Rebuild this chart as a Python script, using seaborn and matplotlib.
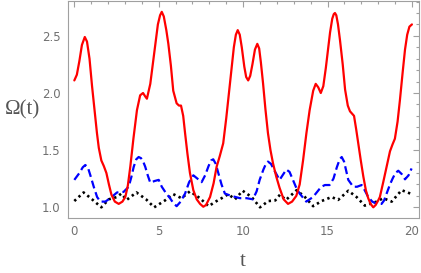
import matplotlib
matplotlib.use("Agg")
import matplotlib.pyplot as plt
from matplotlib.ticker import MultipleLocator
import seaborn as sns
import pandas as pd

# values
t_red = [0.0, 0.15, 0.3, 0.45, 0.62, 0.75, 0.9, 1.05, 1.2, 1.34, 1.45, 1.6, 1.75, 1.9, 2.05,
         2.2, 2.4, 2.63, 2.85, 3.02, 3.17, 3.32, 3.5, 3.71, 3.9, 4.07, 4.2, 4.3, 4.5, 4.74,
         4.95, 5.08, 5.18, 5.3, 5.45, 5.57, 5.72, 5.86, 6.06, 6.2, 6.32, 6.45, 6.56, 6.7,
         6.85, 7.05, 7.25, 7.45, 7.64, 7.8, 8.04, 8.25, 8.43, 8.62, 8.82, 9.0, 9.22, 9.45,
         9.57, 9.68, 9.8, 9.92, 10.07, 10.18, 10.3, 10.42, 10.55, 10.7, 10.84, 10.95, 11.05,
         11.18, 11.32, 11.47, 11.62, 11.77, 11.96, 12.16, 12.4, 12.66, 12.9, 13.15, 13.35,
         13.55, 13.75, 13.94, 14.15, 14.3, 14.45, 14.6, 14.75, 14.9, 15.03, 15.15, 15.28,
         15.37, 15.44, 15.52, 15.62, 15.74, 15.9, 16.04, 16.2, 16.33, 16.45, 16.57, 16.7,
         16.82, 16.97, 17.12, 17.27, 17.41, 17.55, 17.71, 17.85, 18.0, 18.1, 18.3, 18.5,
         18.7, 18.85, 18.99, 19.15, 19.29, 19.45, 19.59, 19.72, 19.85, 20.0]
omega_red = [2.11, 2.16, 2.28, 2.42, 2.49, 2.45, 2.30, 2.06, 1.85, 1.65, 1.52, 1.41, 1.36, 1.30, 1.20,
             1.11, 1.05, 1.03, 1.05, 1.09, 1.19, 1.36, 1.6, 1.85, 1.98, 2.0, 1.97, 1.95, 2.08, 2.36,
             2.6, 2.68, 2.71, 2.67, 2.55, 2.43, 2.24, 2.02, 1.91, 1.89, 1.89, 1.80, 1.65, 1.47,
             1.30, 1.15, 1.07, 1.03, 1.005, 1.02, 1.09, 1.21, 1.355, 1.45, 1.56, 1.78, 2.08, 2.4,
             2.51, 2.55, 2.51, 2.40, 2.23, 2.14, 2.11, 2.15, 2.25, 2.38, 2.43, 2.39, 2.27,
             2.085, 1.86, 1.65, 1.50, 1.385, 1.27, 1.17, 1.07, 1.03, 1.05, 1.10, 1.2,
             1.41, 1.65, 1.85, 2.02, 2.08, 2.05, 2.0, 2.06, 2.22, 2.38, 2.53, 2.65,
             2.69, 2.70, 2.68, 2.60, 2.46, 2.25, 2.03, 1.89, 1.84, 1.82, 1.80, 1.68,
             1.56, 1.41, 1.27, 1.15, 1.08, 1.03, 1.0, 1.02, 1.06, 1.09, 1.22, 1.355,
             1.49, 1.55, 1.60, 1.75, 1.94, 2.18, 2.38, 2.51, 2.58, 2.6]

t_blue = [0.0, 0.3, 0.5, 0.65, 0.8, 0.95, 1.15, 1.35, 1.54, 1.84, 2.13, 2.53, 2.92, 3.22, 3.37,
          3.52, 3.67, 3.81, 3.95, 4.08, 4.2, 4.35, 4.5, 4.75, 5.0, 5.18, 5.45, 5.67, 5.85,
          6.06, 6.3, 6.56, 6.8, 7.05, 7.3, 7.54, 7.75, 7.95, 8.1, 8.23, 8.38, 8.53, 8.72,
          8.92, 9.3, 9.81, 10.2, 10.58, 10.8, 10.98, 11.2, 11.35, 11.47, 11.65, 11.86,
          12.16, 12.38, 12.56, 12.75, 12.95, 13.15, 13.35, 13.74, 14.14, 14.63, 14.85,
          15.12, 15.35, 15.55, 15.72, 15.84, 15.98, 16.23, 16.52, 16.75, 17.02, 17.2, 17.41,
          17.65, 17.91, 18.2, 18.35, 18.5, 18.7, 18.85, 19.02, 19.19, 19.4, 19.59, 19.8, 19.98]
omega_blue = [1.24, 1.30, 1.35, 1.37, 1.35, 1.28, 1.18, 1.09, 1.05, 1.05, 1.08, 1.13, 1.135, 1.18, 1.26,
              1.355, 1.42, 1.44, 1.43, 1.40, 1.355, 1.28, 1.215, 1.23, 1.24, 1.18, 1.12, 1.08, 1.04,
              1.01, 1.05, 1.12, 1.22, 1.28, 1.25, 1.22, 1.28, 1.36, 1.41, 1.42, 1.38, 1.30, 1.20,
              1.12, 1.10, 1.08, 1.08, 1.07, 1.14, 1.24, 1.33, 1.38, 1.40, 1.38, 1.32,
              1.24, 1.29, 1.33, 1.31, 1.24, 1.17, 1.12, 1.05, 1.09, 1.18, 1.195,
              1.195, 1.25, 1.35, 1.42, 1.44, 1.40, 1.24, 1.18, 1.18, 1.195, 1.15, 1.09,
              1.05, 1.03, 1.03, 1.06, 1.12, 1.20, 1.25, 1.30, 1.32, 1.29, 1.245, 1.28, 1.34]

t_black = [0.0, 0.55, 1.05, 1.6, 2.04, 2.53, 2.78, 3.1, 3.68, 4.25, 4.73, 5.37, 5.86, 6.35,
           6.85, 7.44, 7.95, 8.43, 8.73, 9.12, 9.52, 9.97, 10.5, 11.0, 11.49, 11.9, 12.18,
           12.54, 13.17, 13.66, 14.15, 14.65, 15.24, 15.63, 16.23, 16.72, 17.21, 17.91,
           18.3, 18.8, 19.39, 20.0]
omega_black = [1.055, 1.13, 1.07, 1.0, 1.07, 1.09, 1.12, 1.065, 1.13, 1.07, 1.0, 1.06, 1.115, 1.08,
               1.14, 1.08, 1.01, 1.055, 1.08, 1.115, 1.07, 1.145, 1.09, 1.0, 1.055, 1.06, 1.11,
               1.065, 1.15, 1.09, 1.01, 1.055, 1.09, 1.065, 1.145, 1.09, 1.015, 1.05,
               1.08, 1.05, 1.15, 1.115]

xticks = [0, 5, 10, 15, 20]
yticks = [1.0, 1.5, 2.0, 2.5]

sns.set_style("white")
plt.rcParams["font.family"] = ["DejaVu Sans"]

fig = plt.figure(figsize=(4.21, 2.73), dpi=100)
ax = fig.add_axes([0.1605, 0.2004, 0.834, 0.796])

red = pd.DataFrame({"t": t_red, "omega": omega_red})
blue = pd.DataFrame({"t": t_blue, "omega": omega_blue})
black = pd.DataFrame({"t": t_black, "omega": omega_black})

sns.lineplot(data=black, x="t", y="omega", ax=ax, color="black", lw=1.9,
             linestyle=(0, (0.9, 1.3)), sort=False)
sns.lineplot(data=blue, x="t", y="omega", ax=ax, color="#0000ff", lw=1.6,
             linestyle=(0, (3.6, 1.8)), sort=False)
sns.lineplot(data=red, x="t", y="omega", ax=ax, color="#ff0000", lw=1.6, sort=False)

ax.set_xlim(-0.4, 20.4)
ax.set_ylim(0.904, 2.805)
ax.set_xticks(xticks)
ax.set_yticks(yticks)
ax.set_xticklabels([str(v) for v in xticks])
ax.set_yticklabels([f"{v:.1f}" for v in yticks])
ax.xaxis.set_minor_locator(MultipleLocator(1))
ax.yaxis.set_minor_locator(MultipleLocator(0.1))

grey = "#a0a0a0"
for s in ax.spines.values():
    s.set_color(grey)
    s.set_linewidth(0.8)
ax.tick_params(which="both", direction="in", top=True, right=True, color=grey,
               width=0.8, labelcolor="#707070", labelsize=8.5)
ax.tick_params(which="major", length=4.5, pad=5)
ax.tick_params(which="minor", length=2.5)

ax.set_xlabel("t", family="Liberation Serif", fontsize=15, color="#555555", labelpad=10)
ax.set_ylabel("Ω(t)", family="Liberation Serif", fontsize=15, color="#555555",
              rotation=0, labelpad=14, va="center")

fig.savefig("out.png", dpi=100)
